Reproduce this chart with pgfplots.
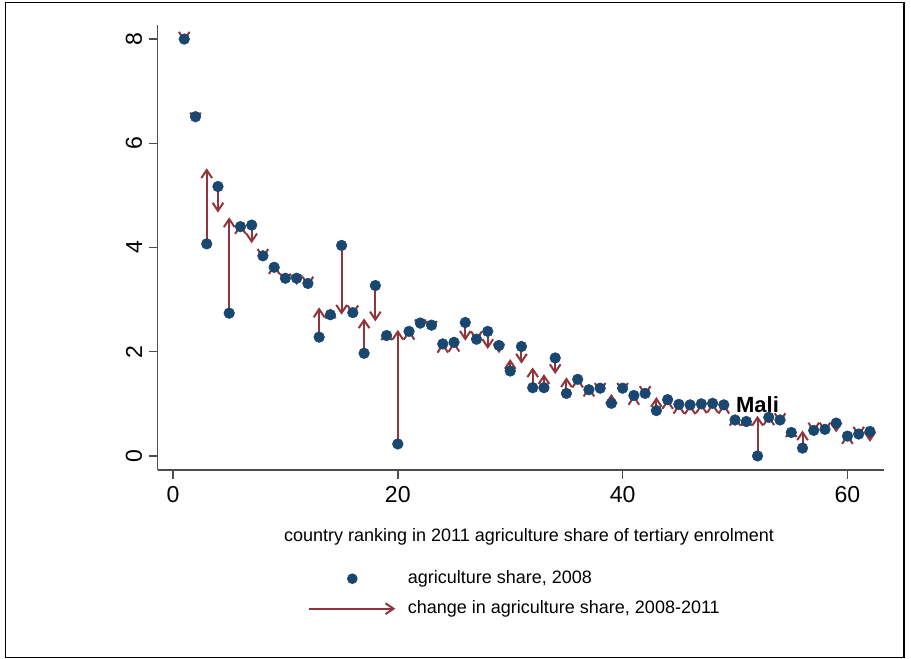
\documentclass[border=0pt]{standalone}
\usepackage{fontspec}
\setmainfont{Liberation Sans}
\usepackage{pgfplots}
\pgfplotsset{compat=1.18}
\usepackage{pgfplotstable}
\usetikzlibrary{arrows.meta}
\definecolor{navy}{HTML}{1A476F}
\definecolor{maroon}{HTML}{90353B}
\definecolor{axisgray}{HTML}{4D4D4D}

\pgfplotstableread{
x y08 y11
1 8.00 7.95
2 6.51 6.40
3 4.07 5.52
4 5.17 4.67
5 2.74 4.58
6 4.40 4.45
7 4.43 4.08
8 3.84 3.78
9 3.62 3.68
10 3.41 3.31
11 3.41 3.28
12 3.31 3.25
13 2.28 2.85
14 2.71 2.83
15 4.04 2.71
16 2.75 2.70
17 1.97 2.64
18 3.27 2.58
19 2.31 2.41
20 0.23 2.42
21 2.39 2.42
22 2.55 2.43
23 2.51 2.40
24 2.15 2.17
25 2.18 2.19
26 2.56 2.21
27 2.24 2.20
28 2.39 2.05
29 2.12 1.97
30 1.63 1.86
31 2.10 1.77
32 1.31 1.70
33 1.31 1.57
34 1.88 1.57
35 1.20 1.51
36 1.47 1.50
37 1.27 1.33
38 1.30 1.21
39 1.01 1.19
40 1.30 1.21
41 1.16 1.17
42 1.20 1.15
43 0.87 1.13
44 1.08 1.09
45 0.99 1.00
46 0.98 0.99
47 1.00 1.01
48 1.01 1.02
49 0.98 1.00
50 0.69 0.77
51 0.66 0.77
52 0.00 0.77
53 0.74 0.78
54 0.69 0.63
55 0.45 0.55
56 0.15 0.49
57 0.49 0.45
58 0.51 0.45
59 0.63 0.45
60 0.38 0.42
61 0.42 0.37
62 0.47 0.27
}\datatable

\begin{document}
\begin{tikzpicture}[x=1pt,y=1pt]
\useasboundingbox (0,0) rectangle (683.25,494.25);
\draw[line width=1.1pt, black] (4.3,1.1) rectangle (678,492.5);
\begin{axis}[
  at={(118.2pt,141.75pt)}, anchor=south west,
  scale only axis, width=544.8pt, height=333.75pt,
  xmin=-1.37, xmax=63.25, ymin=-0.27, ymax=8.27,
  axis x line*=bottom, axis y line*=left,
  axis line style={axisgray, line width=1.1pt, -},
  xtick={0,20,40,60}, ytick={0,2,4,6,8},
  tick align=outside, major tick length=6.5pt,
  tick style={axisgray, line width=1.1pt},
  /pgf/number format/assume math mode=true,
  ticklabel style={font=\fontsize{17.3}{20}\selectfont},
  yticklabel style={rotate=90, anchor=south},
  xticklabel shift=2.5pt, yticklabel shift=1.5pt,
  xlabel={country ranking in 2011 agriculture share of tertiary enrolment},
  xlabel style={at={(axis description cs:0.5113,-0.1506)}, anchor=center, font=\fontsize{13.5}{16}\selectfont},
  legend style={draw=none, fill=none, inner sep=0pt, outer sep=0pt,
    at={(axis description cs:0.2075,-0.2780)}, anchor=west,
    font=\fontsize{13.5}{16}\selectfont, row sep=9.5pt, column sep=8.3pt,
    nodes={inner sep=0pt, text height=10pt, text depth=3pt},
    cells={anchor=west}},
  clip=false,
]
\addplot[only marks, mark=*, mark size=4pt, navy,
  legend image code/.code={\path[draw=none, fill=none] (0pt,0pt) -- (64.5pt,0pt); \fill[navy, draw=none] (32.25pt,0pt) circle (4pt);}]
  table[x=x, y=y08] {\datatable};
\addlegendentry{agriculture share, 2008}
\addplot[maroon, line width=1.5pt, -{Straight Barb[length=6pt,width=8pt]},
  quiver={u=0, v=\thisrow{y11}-\thisrow{y08}},
  legend image code/.code={\draw[maroon, line width=1.5pt, -{Straight Barb[length=6pt,width=8pt]}] (0pt,0pt) -- (64.5pt,0pt);}]
  table[x=x, y=y08] {\datatable};
\addlegendentry{change in agriculture share, 2008-2011}
\node[anchor=base, yshift=2.3pt, font=\bfseries\fontsize{16.5}{18}\selectfont] at (axis cs:52,0.77) {Mali};
\end{axis}
\end{tikzpicture}
\end{document}
